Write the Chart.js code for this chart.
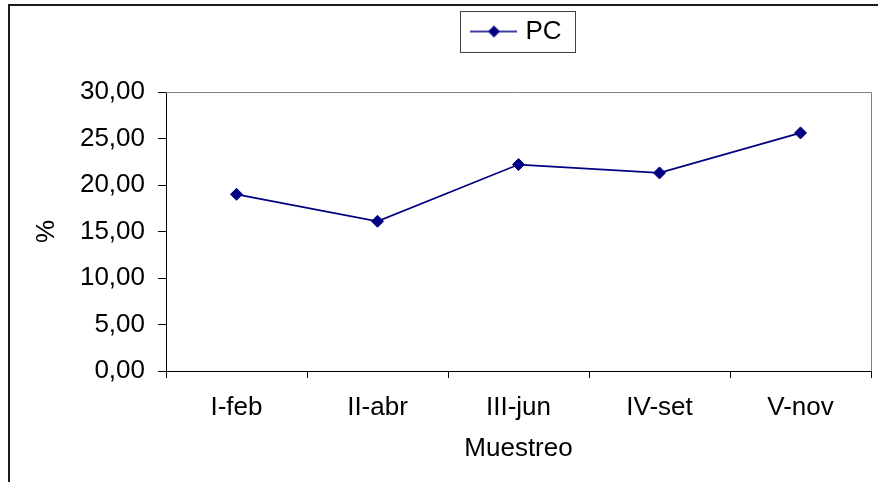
<!DOCTYPE html>
<html><head><meta charset="utf-8">
<script src="https://cdn.jsdelivr.net/npm/chart.js@4"></script>
<style>html,body{margin:0;padding:0;background:#fff;overflow:hidden;}</style>
</head><body>
<canvas id="c" width="878" height="482"></canvas>
<script>
// ---- data ----
const categories = ['I-feb', 'II-abr', 'III-jun', 'IV-set', 'V-nov'];
const pcValues = [19.0, 16.1, 22.2, 21.3, 25.6];
const seriesName = 'PC';
const yTicks = [0, 5, 10, 15, 20, 25, 30];
const xTitle = 'Muestreo';
const yTitle = '%';

// ---- styles ----
const NAVY = '#000080';
const FONT = 'Liberation Sans, Arial, sans-serif';
const FS = 26;
Chart.defaults.color = '#000';
Chart.defaults.font.family = FONT;
Chart.defaults.font.size = FS;

// legend glyph: line with diamond
const glyph = document.createElement('canvas');
glyph.width = 47; glyph.height = 14;
(function () {
  const g = glyph.getContext('2d');
  g.strokeStyle = NAVY; g.lineWidth = 1.5;
  g.beginPath(); g.moveTo(0, 7); g.lineTo(47, 7); g.stroke();
  g.fillStyle = NAVY;
  g.beginPath(); g.moveTo(23.5, 1); g.lineTo(29.5, 7); g.lineTo(23.5, 13); g.lineTo(17.5, 7); g.closePath(); g.fill();
})();

const LEG_PAD = 56;
const framePlugin = {
  id: 'frame',
  afterLayout(chart) {
    const lg = chart.legend, ca = chart.chartArea;
    const dx = (ca.left + ca.right) / 2 - (lg.left + lg.right) / 2;
    const dy = 31.5 - (lg.top + LEG_PAD + FS / 2);
    lg.left += dx; lg.right += dx; lg.top += dy; lg.bottom += dy;
  },
  beforeDraw(chart) {
    const ctx = chart.ctx;
    ctx.save();
    ctx.fillStyle = '#fff';
    ctx.fillRect(0, 0, chart.width, chart.height);
    ctx.strokeStyle = '#1a1a1a';
    ctx.lineWidth = 2;
    ctx.strokeRect(9, 5, chart.width + 20, chart.height + 20);
    ctx.restore();
  },
  beforeDatasetsDraw(chart) {
    const ctx = chart.ctx, ca = chart.chartArea;
    ctx.save();
    ctx.strokeStyle = '#808080';
    ctx.lineWidth = 1;
    ctx.beginPath();
    ctx.moveTo(ca.left, ca.top + 0.5);
    ctx.lineTo(ca.right + 0.5, ca.top + 0.5);
    ctx.lineTo(ca.right + 0.5, ca.bottom);
    ctx.stroke();
    ctx.restore();
  },
  afterDraw(chart) {
    const hb = chart.legend.legendHitBoxes[0];
    if (!hb) return;
    const ctx = chart.ctx;
    const cy = hb.top + hb.height / 2;
    ctx.save();
    ctx.strokeStyle = '#404040';
    ctx.lineWidth = 1;
    const l = Math.round(hb.left - 15) + 0.5, r = Math.round(hb.left + hb.width + 13) + 0.5;
    const t = Math.round(cy - 20.5) + 0.5, b = Math.round(cy + 20.5) + 0.5;
    ctx.strokeRect(l, t, r - l, b - t);
    ctx.restore();
  }
};

new Chart(document.getElementById('c'), {
  type: 'line',
  data: {
    labels: categories,
    datasets: [{
      label: seriesName,
      data: pcValues,
      borderColor: NAVY,
      backgroundColor: NAVY,
      borderWidth: 1.75,
      pointStyle: 'rectRot',
      pointRadius: 6,
      pointHoverRadius: 6,
      pointBackgroundColor: NAVY,
      pointBorderColor: NAVY,
      pointBorderWidth: 1,
      tension: 0,
      fill: false
    }]
  },
  options: {
    responsive: false,
    animation: false,
    events: [],
    layout: { padding: { left: 0, right: 5, top: 0, bottom: 0 } },
    plugins: {
      tooltip: { enabled: false },
      legend: {
        display: true,
        position: 'top',
        align: 'center',
        labels: {
          usePointStyle: true,
          pointStyle: glyph,
          pointStyleWidth: 37,
          padding: LEG_PAD,
          color: '#000',
          font: { size: FS, family: FONT }
        }
      }
    },
    scales: {
      x: {
        type: 'category',
        offset: true,
        afterFit(s) { s.height = 111; },
        grid: { offset: true, drawOnChartArea: false, drawTicks: true, tickLength: 7, tickColor: '#000', color: '#000' },
        border: { display: true, color: '#000', width: 1 },
        ticks: { padding: 14, color: '#000', font: { size: FS, family: FONT }, maxRotation: 0, autoSkip: false },
        title: { display: true, text: xTitle, color: '#000', font: { size: FS, family: FONT }, padding: { top: 0, bottom: 18 } }
      },
      y: {
        min: yTicks[0],
        max: yTicks[yTicks.length - 1],
        afterFit(s) { s.width = 166; },
        afterBuildTicks(s) { s.ticks = yTicks.map(v => ({ value: v })); },
        grid: { drawOnChartArea: false, drawTicks: true, tickLength: 8, tickColor: '#000', color: '#000' },
        border: { display: true, color: '#000', width: 1 },
        ticks: {
          padding: 13, color: '#000', font: { size: FS, family: FONT },
          callback: v => Number(v).toFixed(2).replace('.', ',')
        },
        title: { display: true, text: yTitle, color: '#000', font: { size: FS, family: FONT }, padding: { top: 31, bottom: 0 } }
      }
    }
  },
  plugins: [framePlugin]
});
</script>
</body></html>
